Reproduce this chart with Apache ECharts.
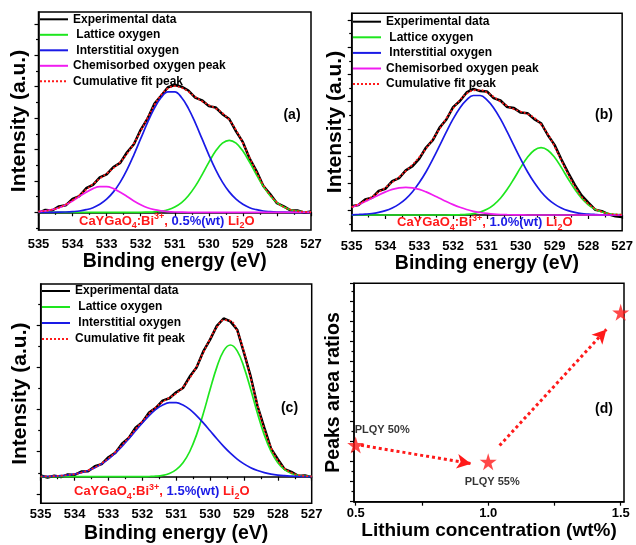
<!DOCTYPE html>
<html>
<head>
<meta charset="utf-8">
<script src="https://cdn.jsdelivr.net/npm/echarts@6/dist/echarts.min.js"></script>
<style>
  html, body { margin: 0; padding: 0; background: #fff; }
  #chart { width: 636px; height: 545px; }
</style>
</head>
<body>
<div id="chart"></div>
<script>
  // binding energy grid (eV), shared by the three XPS panels
  const energy = [535.0, 534.8, 534.6, 534.4, 534.2, 534.0, 533.8, 533.6, 533.4, 533.2,
    533.0, 532.8, 532.6, 532.4, 532.2, 532.0, 531.8, 531.6, 531.4, 531.2,
    531.0, 530.8, 530.6, 530.4, 530.2, 530.0, 529.8, 529.6, 529.4, 529.2,
    529.0, 528.8, 528.6, 528.4, 528.2, 528.0, 527.8, 527.6, 527.4, 527.2, 527.0]

  // (a) 0.5 %(wt) Li2O
  const expA = [-0.5, 2.3, 1.8, 5.9, 7.0, 13.4, 16.2, 24.1, 27.5, 35.0,
    37.9, 45.3, 49.4, 60.0, 68.1, 82.5, 93.6, 108.4, 116.5, 125.0,
    127.3, 125.6, 121.8, 114.6, 112.0, 106.2, 104.8, 98.1, 93.3, 81.0,
    70.1, 53.6, 41.2, 26.3, 18.2, 9.1, 6.0, 2.0, 1.8, -0.4, 0.9]
  const latticeA = [0, 0, 0, 0, 0, 0, 0, 0, 0, 0, 0, 0, 0, 0, 0, 0,
    0.2, 0.5, 1.2, 2.6, 5.3, 9.7, 16.6, 25.9, 37.5, 49.9, 61.2, 69.1, 72.0,
    69.1, 61.2, 49.9, 37.5, 25.9, 16.6, 9.7, 5.3, 2.6, 1.2, 0.5, 0.2]
  const interA = [0, 0, 0, 0.1, 0.3, 0.7, 1.3, 2.6, 4.6, 8.0,
    13.1, 20.4, 30.2, 42.7, 57.5, 73.6, 89.6, 104.0, 114.8, 120.5,
    120.5, 114.8, 104.0, 89.6, 73.6, 57.5, 42.7, 30.2, 20.4, 13.1,
    8.0, 4.6, 2.6, 1.3, 0.7, 0.3, 0.1, 0, 0, 0, 0]
  const chemA = [0.7, 1.4, 2.6, 4.6, 7.6, 11.4, 15.8, 20.1, 23.7, 25.7,
    25.7, 23.7, 20.1, 15.8, 11.4, 7.6, 4.6, 2.6, 1.4, 0.7,
    0.3, 0.1, 0, 0, 0, 0, 0, 0, 0, 0, 0, 0, 0, 0, 0, 0, 0, 0, 0, 0, 0]
  const fitA = [0.7, 1.4, 2.6, 4.7, 7.9, 12.1, 17.1, 22.7, 28.3, 33.7,
    38.8, 44.1, 50.3, 58.5, 68.9, 81.2, 94.4, 107.1, 117.4, 123.8,
    126.1, 124.6, 120.6, 115.5, 111.1, 107.4, 103.9, 99.3, 92.4, 82.2,
    69.2, 54.5, 40.1, 27.2, 17.3, 10.0, 5.4, 2.6, 1.2, 0.5, 0.2]

  // (b) 1.0 %(wt) Li2O
  const expB = [8.8, 10.0, 15.6, 17.2, 24.1, 26.3, 33.9, 36.8, 44.6, 48.9,
    56.4, 67.5, 74.8, 87.4, 95.5, 107.9, 114.0, 122.6, 126.1, 123.9,
    123.6, 116.9, 114.5, 108.0, 106.9, 102.4, 101.8, 95.9, 91.8, 80.0,
    70.1, 55.6, 42.4, 30.1, 19.6, 12.4, 5.3, 3.9, 0.6, -1.2, -2.0]
  const latticeB = [0, 0, 0, 0, 0, 0, 0, 0, 0, 0, 0, 0, 0, 0, 0,
    0.1, 0.3, 0.6, 1.4, 3.0, 5.7, 10.2, 16.8, 25.7, 36.3, 47.6, 57.7, 64.8, 67.3,
    64.8, 57.7, 47.6, 36.3, 25.7, 16.8, 10.2, 5.7, 3.0, 1.4, 0.6, 0.3]
  const interB = [0.2, 0.5, 0.9, 1.5, 2.7, 4.4, 7.1, 10.9, 16.2, 23.3,
    32.4, 43.2, 55.8, 69.3, 83.1, 96.1, 107.1, 115.2, 119.5, 119.5,
    115.2, 107.1, 96.1, 83.1, 69.3, 55.8, 43.2, 32.4, 23.3, 16.2,
    10.9, 7.1, 4.4, 2.7, 1.5, 0.9, 0.5, 0.2, 0.1, 0, 0]
  const chemB = [7.7, 10.4, 13.5, 16.8, 20.1, 23.1, 25.6, 27.1, 27.7, 27.1,
    25.6, 23.1, 20.1, 16.8, 13.5, 10.4, 7.7, 5.5, 3.7, 2.5,
    1.6, 0.9, 0.5, 0.3, 0.2, 0.1, 0, 0, 0, 0, 0, 0, 0, 0, 0, 0, 0, 0, 0, 0, 0]
  const fitB = [7.9, 10.9, 14.4, 18.3, 22.8, 27.5, 32.7, 38.0, 43.9, 50.4,
    58.0, 66.3, 75.9, 86.1, 96.6, 106.6, 115.1, 121.3, 124.6, 125.0,
    122.5, 118.2, 113.4, 109.1, 105.8, 103.5, 100.9, 97.2, 90.6, 81.0,
    68.6, 54.7, 40.7, 28.4, 18.3, 11.1, 6.2, 3.2, 1.5, 0.6, 0.3]

  // (c) 1.5 %(wt) Li2O
  const expC = [1.2, -0.8, 0.9, -0.4, 2.3, 1.8, 5.2, 5.5, 10.4, 12.6,
    19.5, 23.8, 32.9, 38.7, 48.9, 54.6, 64.2, 68.8, 76.1, 78.4,
    84.5, 88.7, 100.1, 109.2, 125.3, 137.1, 150.8, 158.2, 155.3, 147.0,
    124.1, 100.0, 70.6, 49.0, 28.1, 17.5, 7.6, 4.9, 0.8, 1.3, -0.5]
  const latticeC = [0, 0, 0, 0, 0, 0, 0, 0, 0, 0, 0, 0, 0, 0, 0, 0,
    0.2, 0.5, 1.3, 3.2, 7.0, 13.9, 25.2, 41.8, 63.2, 87.1, 109.6, 125.8, 131.7,
    125.8, 109.6, 87.1, 63.2, 41.8, 25.2, 13.9, 7.0, 3.2, 1.3, 0.5, 0.2]
  const interC = [0.2, 0.3, 0.6, 1.0, 1.6, 2.6, 4.1, 6.2, 9.0, 12.8,
    17.6, 23.5, 30.3, 37.9, 45.9, 53.8, 61.1, 67.3, 71.7, 74.0,
    74.0, 71.7, 67.3, 61.1, 53.8, 45.9, 37.9, 30.3, 23.5, 17.6,
    12.8, 9.0, 6.2, 4.1, 2.6, 1.6, 1.0, 0.6, 0.3, 0.2, 0.1]
  const fitC = [0.2, 0.3, 0.6, 1.0, 1.6, 2.6, 4.1, 6.3, 9.3, 13.3,
    18.4, 24.6, 31.6, 39.4, 47.5, 55.5, 63.0, 69.6, 74.8, 79.0,
    83.2, 89.5, 98.5, 110.0, 124.0, 138.0, 149.5, 156.5, 156.0, 145.5,
    125.0, 98.5, 71.5, 47.5, 29.0, 16.2, 8.4, 4.0, 1.7, 0.7, 0.3]

  // intensity axis ticks (a.u., no labels)
  const majorA = [0, 31.4, 62.8, 94.2, 125.6, 157.0, 188.4]
  const minorA = [-15.7, 15.7, 47.1, 78.5, 109.9, 141.3, 172.7]
  const majorB = [4.3, 31.5, 58.8, 86.0, 113.3, 140.5, 167.7, 195.0]
  const minorB = [-9.3, 17.9, 45.2, 72.4, 99.7, 126.9, 154.1, 181.4]
  const majorC = [-17.2, 25.0, 67.2, 109.3, 151.5]
  const minorC = [3.9, 46.1, 88.3, 130.4, 172.6]

  // (d) peak area ratio vs lithium content
  const liConc = [0.5, 1.0, 1.5]
  const areaRatio = [2.83, 2.0, 9.45]
  const plqyLabels = ['PLQY 50%', 'PLQY 55%', '']
  const concTicks = [0.5, 0.75, 1.0, 1.25, 1.5]
  const concLabels = [0.5, 1.0, 1.5]
  const arrowStart = [[0.52, 2.82], [1.043, 2.8]]
  const arrowEnd = [[0.935, 1.9], [1.446, 8.6]]

  const sampleConc = ['0.5%(wt)', '1.0%(wt)', '1.5%(wt)']
  const panelTags = ['(a)', '(b)', '(c)', '(d)']

  const FONT = 'Liberation Sans, Arial, Helvetica, sans-serif'
  const RED = '#ff1a1a'
  const GREEN = '#1ee61e'
  const BLUE = '#1a1ae6'
  const MAGENTA = '#f01cf0'

  const pairs = ys => energy.map((e, i) => [e, ys[i]])

  const grids = [
    { left: 38.5, top: 12, width: 272.5, height: 218 },
    { left: 351.7, top: 13.3, width: 272.8, height: 217.4 },
    { left: 40.7, top: 284, width: 271, height: 219.3 },
    { left: 354, top: 283.3, width: 270, height: 218.4 }
  ].map(g => Object.assign(g, { show: true, borderColor: '#000', borderWidth: 1.5, backgroundColor: 'transparent' }))

  const panels = [
    { exp: expA, lat: latticeA, inter: interA, chem: chemA, fit: fitA, major: majorA, minor: minorA, min: -17.7, max: 200.3, labelMargin: 8, nameGap: 21, yGap: 9 },
    { exp: expB, lat: latticeB, inter: interB, chem: chemB, fit: fitB, major: majorB, minor: minorB, min: -15.7, max: 201.7, labelMargin: 9, nameGap: 19.5, yGap: 6 },
    { exp: expC, lat: latticeC, inter: interC, chem: null, fit: fitC, major: majorC, minor: minorC, min: -26.6, max: 192.7, labelMargin: 5, nameGap: 20, yGap: 10 }
  ]

  const tickLine = { color: '#000', width: 1.2 }
  const boldText = size => ({ fontFamily: FONT, fontWeight: 'bold', fontSize: size, color: '#000' })

  const xAxis = []
  const yAxis = []
  const series = []
  const legend = []

  panels.forEach((p, i) => {
    xAxis.push({
      gridIndex: i, type: 'value', inverse: true, min: 527, max: 535, interval: 1,
      axisLine: { lineStyle: { color: '#000', width: 1.5 } },
      axisTick: { length: 4, lineStyle: tickLine },
      minorTick: { show: true, splitNumber: 2, length: 2.5, lineStyle: tickLine },
      splitLine: { show: false },
      axisLabel: Object.assign(boldText(13), { margin: p.labelMargin }),
      name: 'Binding energy (eV)', nameLocation: 'middle', nameGap: p.nameGap,
      nameTextStyle: boldText(19.5)
    })
    yAxis.push({
      gridIndex: i, type: 'value', min: p.min, max: p.max,
      axisLine: { show: true, lineStyle: { color: '#000', width: 1.5 } },
      axisTick: { show: true, length: 4, customValues: p.major, lineStyle: tickLine },
      axisLabel: { show: false },
      splitLine: { show: false },
      name: 'Intensity (a.u.)', nameLocation: 'middle', nameGap: p.yGap,
      nameTextStyle: boldText(21)
    })
    yAxis.push({
      gridIndex: i, type: 'value', min: p.min, max: p.max, position: 'left', offset: 0,
      axisLine: { show: false },
      axisTick: { show: true, length: 2.5, customValues: p.minor, lineStyle: tickLine },
      axisLabel: { show: false },
      splitLine: { show: false }
    })
    const base = { type: 'line', xAxisIndex: i, yAxisIndex: 2 * i, symbol: 'none', silent: true }
    series.push(Object.assign({}, base, {
      name: 'Experimental data', data: pairs(p.exp), z: 2,
      color: '#000', lineStyle: { color: '#000', width: 2.5 }
    }))
    series.push(Object.assign({}, base, {
      name: 'Lattice oxygen', data: pairs(p.lat), smooth: 0.4, z: 3,
      color: GREEN, lineStyle: { color: GREEN, width: 1.7 }
    }))
    series.push(Object.assign({}, base, {
      name: 'Interstitial oxygen', data: pairs(p.inter), smooth: 0.4, z: 3,
      color: BLUE, lineStyle: { color: BLUE, width: 1.7 }
    }))
    if (p.chem) {
      series.push(Object.assign({}, base, {
        name: 'Chemisorbed oxygen peak', data: pairs(p.chem), smooth: 0.4, z: 3,
        color: MAGENTA, lineStyle: { color: MAGENTA, width: 1.7 }
      }))
    }
    series.push(Object.assign({}, base, {
      name: 'Cumulative fit peak', data: pairs(p.fit), smooth: 0.4, z: 5,
      color: RED, lineStyle: { color: RED, width: 1.7, type: [2, 2] }
    }))
  })

  const legendPos = [
    { left: 39, top: 12.3, itemGap: 1.5 },
    { left: 352, top: 14.7, itemGap: 1.6 },
    { left: 41, top: 284, itemGap: 2 }
  ]
  legendPos.forEach((lp, i) => {
    const names = ['Experimental data', 'Lattice oxygen', 'Interstitial oxygen']
    if (panels[i].chem) names.push('Chemisorbed oxygen peak')
    names.push('Cumulative fit peak')
    legend.push({
      orient: 'vertical', left: lp.left, top: lp.top, padding: 0,
      itemWidth: 28, itemHeight: 14, itemGap: lp.itemGap, selectedMode: false,
      itemStyle: { opacity: 0 },
      data: names,
      formatter: n => (n === 'Lattice oxygen' || n === 'Interstitial oxygen') ? ' ' + n : n,
      textStyle: Object.assign(boldText(12), { lineHeight: 14 })
    })
  })

  // panel (d)
  xAxis.push({
    gridIndex: 3, type: 'value', min: 0.4936, max: 1.5125,
    axisLine: { lineStyle: { color: '#000', width: 1.5 } },
    axisTick: { length: 4, customValues: concTicks, lineStyle: tickLine },
    axisLabel: Object.assign(boldText(13), { margin: 5, customValues: concLabels, formatter: v => v.toFixed(1) }),
    splitLine: { show: false },
    name: 'Lithium concentration (wt%)', nameLocation: 'middle', nameGap: 20,
    nameTextStyle: boldText(19)
  })
  yAxis.push({
    gridIndex: 3, type: 'value', min: 0, max: 10.9, interval: 1,
    axisLine: { show: true, lineStyle: { color: '#000', width: 1.5 } },
    axisTick: { length: 4, lineStyle: tickLine },
    minorTick: { show: true, splitNumber: 2, length: 2.5, lineStyle: tickLine },
    axisLabel: { show: false },
    splitLine: { show: false },
    name: 'Peaks area ratios', nameLocation: 'middle', nameGap: 10,
    nameTextStyle: boldText(19.5)
  })

  const star = 'path://M50,0 L61,35 L98,35 L68,57 L79,91 L50,70 L21,91 L32,57 L2,35 L39,35 Z'
  const labelPlace = [
    { position: 'top', align: 'left', distance: 1, offset: [-1, 0] },
    { position: 'bottom', distance: 6, offset: [4, 0] },
    { show: false }
  ]
  series.push({
    type: 'scatter', xAxisIndex: 3, yAxisIndex: 6, silent: true, clip: false, z: 6,
    symbol: star, symbolSize: 17,
    itemStyle: { color: RED },
    data: liConc.map((x, i) => ({
      value: [x, areaRatio[i]],
      label: Object.assign({ show: plqyLabels[i] !== '', formatter: plqyLabels[i] }, boldText(11), labelPlace[i])
    })),
    markLine: {
      silent: true, animation: false,
      symbol: ['none', 'arrow'], symbolSize: [11, 14],
      label: { show: false },
      lineStyle: { color: RED, type: 'dotted', width: 3 },
      data: arrowStart.map((s, i) => [
        { coord: s, lineStyle: { curveness: i === 1 ? 0.06 : 0 } },
        { coord: arrowEnd[i] }
      ])
    }
  })

  // sample labels with sub/superscripts
  const rich = {
    r: { fill: RED, fontSize: 13, fontWeight: 'bold', fontFamily: FONT, lineHeight: 18 },
    sb: { fill: RED, fontSize: 9, fontWeight: 'bold', fontFamily: FONT, lineHeight: 10, verticalAlign: 'bottom' },
    sp: { fill: RED, fontSize: 9, fontWeight: 'bold', fontFamily: FONT, lineHeight: 10, verticalAlign: 'top' },
    b: { fill: BLUE, fontSize: 13, fontWeight: 'bold', fontFamily: FONT, lineHeight: 18 }
  }
  const samplePos = [[79, 221], [397, 222.7], [74, 491.7]]
  const tagPos = [[292, 115], [604, 115], [289.5, 408], [604, 409]]

  const graphic = []
  samplePos.forEach((pos, i) => {
    graphic.push({
      type: 'text', x: pos[0], y: pos[1], silent: true, z: 10,
      style: {
        text: '{r|CaYGaO}{sb|4}{r|:Bi}{sp|3+}{r|, }{b|' + sampleConc[i] + '}{r| Li}{sb|2}{r|O}',
        rich: rich, align: 'left', verticalAlign: 'middle'
      }
    })
  })
  tagPos.forEach((pos, i) => {
    graphic.push({
      type: 'text', x: pos[0], y: pos[1], silent: true, z: 10,
      style: {
        text: panelTags[i], fill: '#000', font: 'bold 14px ' + FONT,
        align: 'center', verticalAlign: 'middle'
      }
    })
  })

  const chart = echarts.init(document.getElementById('chart'))
  chart.setOption({
    animation: false,
    backgroundColor: '#fff',
    grid: grids,
    xAxis: xAxis,
    yAxis: yAxis,
    legend: legend,
    series: series,
    graphic: graphic
  })
</script>
</body>
</html>
